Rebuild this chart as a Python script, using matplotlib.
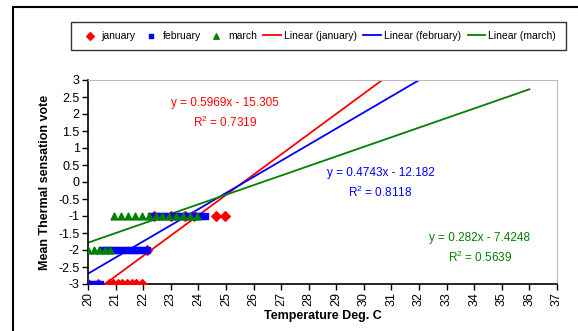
import numpy as np
import matplotlib.pyplot as plt
from matplotlib.patches import Rectangle

plt.rcParams['font.family'] = ['Liberation Sans', 'DejaVu Sans']

jan_x = [20.0, 20.35, 20.75, 20.92, 21.08, 21.25, 21.42, 21.58, 21.75, 21.95,
         22.15, 22.4, 23.0, 23.5, 23.85, 24.65, 24.95]
jan_y = [-3, -3, -3, -3, -3, -3, -3, -3, -3, -3,
         -2, -1, -1, -1, -1, -1, -1]

feb_x = [20.0, 20.15, 20.3, 20.45,
         20.5, 20.65, 20.8, 20.95, 21.1, 21.25, 21.4, 21.55, 21.7, 21.85, 22.0, 22.15,
         22.3, 22.45, 22.6, 22.75, 22.9, 23.05, 23.2, 23.35, 23.5, 23.65, 23.8, 23.95, 24.1, 24.25]
feb_y = [-3] * 4 + [-2] * 12 + [-1] * 14

mar_x = [20.0, 20.2, 20.4, 20.6, 20.8,
         20.95, 21.2, 21.45, 21.7, 21.95, 22.2, 22.45, 22.7, 22.95, 23.2, 23.45, 23.7, 23.95]
mar_y = [-2] * 5 + [-1] * 13

# Trendline coefficients as printed on the chart
jan_fit = (0.5969, -15.305, 0.7319)
feb_fit = (0.4743, -12.182, 0.8118)
mar_fit = (0.282, -7.4248, 0.5639)

x_ticks = list(range(20, 38))
y_ticks = [3, 2.5, 2, 1.5, 1, 0.5, 0, -0.5, -1, -1.5, -2, -2.5, -3]

red, blue, green = '#FF0000', '#0000FF', '#008000'

fig = plt.figure(figsize=(5.78, 3.31), dpi=100)
W, H = 578, 331
ax = fig.add_axes([88 / W, 1 - 284 / H, (557 - 88) / W, (284 - 80) / H])

# outer chart frame
fig.patches.append(Rectangle((13 / W, -0.1), 1.2, 1 - 7 / H + 0.1, transform=fig.transFigure,
                             fill=False, edgecolor='black', linewidth=1.5))

sj = ax.scatter(jan_x, jan_y, marker='D', s=24, color=red, zorder=3, label='january')
sf = ax.scatter(feb_x, feb_y, marker='s', s=18, color=blue, zorder=4, label='february')
sm = ax.scatter(mar_x, mar_y, marker='^', s=24, color=green, zorder=5, label='march')

xl = np.array([20, 36])
lj, = ax.plot(xl, jan_fit[0] * xl + jan_fit[1], color=red, lw=1.3, label='Linear (january)')
lf, = ax.plot(xl, feb_fit[0] * xl + feb_fit[1], color=blue, lw=1.3, label='Linear (february)')
lm, = ax.plot(xl, mar_fit[0] * xl + mar_fit[1], color=green, lw=1.3, label='Linear (march)')

ax.set_xlim(20, 37)
ax.set_ylim(-3, 3)
ax.set_xticks(x_ticks)
ax.set_xticklabels([str(t) for t in x_ticks], rotation=90)
ax.set_yticks(y_ticks)
ax.set_yticklabels(['{:g}'.format(t) for t in y_ticks])
ax.tick_params(labelsize=9, length=4, width=1, pad=2)
for s in ['top', 'right']:
    ax.spines[s].set_color('#BBBBBB')
for s in ['left', 'bottom']:
    ax.spines[s].set_linewidth(1.2)

ax.set_xlabel('Temperature Deg. C', fontsize=9, fontweight='bold', labelpad=3)
ax.set_ylabel('Mean Thermal sensation vote', fontsize=9, fontweight='bold', labelpad=5)

def eq_text(fit, x, y, color):
    m, b, r2 = fit
    ax.text(x, y, 'y = {}x - {}'.format(m, -b), color=color, fontsize=8.5, ha='center', va='center')
    ax.text(x, y - 0.56, '$\\mathregular{R^2}$ = ' + str(r2), color=color, fontsize=8.5,
            ha='center', va='center')

eq_text(jan_fit, 24.96, 2.32, red)
eq_text(feb_fit, 30.6, 0.26, blue)
eq_text(mar_fit, 34.2, -1.65, green)

leg = fig.legend(handles=[sj, sf, sm, lj, lf, lm], ncol=6, fontsize=7.5,
                 loc='center', bbox_to_anchor=((69 + 568) / 2 / W, 1 - 36 / H),
                 frameon=True, fancybox=False, edgecolor='black', handlelength=1.7,
                 handletextpad=0.3, columnspacing=0.6, borderpad=0.9, borderaxespad=0,
                 scatterpoints=1, markerscale=0.8)
leg.get_frame().set_linewidth(1.0)

fig.savefig('out.png', dpi=100)
